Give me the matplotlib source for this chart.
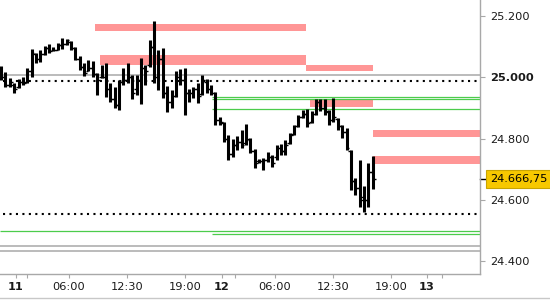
import matplotlib
matplotlib.use("Agg")
import matplotlib.pyplot as plt
from matplotlib.lines import Line2D
import matplotlib.transforms as mtransforms
import numpy as np

# 30 min OHLC bars
highs = [25037, 25017, 24998, 24981, 24994, 25001, 25030, 25092, 25079, 25089,
         25102, 25108, 25099, 25112, 25128, 25125, 25118, 25099, 25069, 25046,
         25056, 25053, 25014, 25040, 25046, 24981, 24968, 24991, 25030, 25046,
         25007, 25007, 25063, 25040, 25121, 25183, 25089, 25095, 24971, 24958,
         25020, 25027, 25030, 24961, 24968, 24981, 25007, 24994, 24974, 24952,
         24870, 24854, 24811, 24798, 24808, 24828, 24847, 24801, 24765, 24733,
         24736, 24756, 24746, 24779, 24782, 24795, 24818, 24844, 24877, 24893,
         24896, 24890, 24929, 24929, 24929, 24893, 24932, 24867, 24844, 24834,
         24762, 24671, 24730, 24645, 24720, 24743]
lows = [24991, 24968, 24968, 24948, 24965, 24974, 24981, 25001, 25046, 25050,
        25073, 25079, 25085, 25089, 25092, 25105, 25089, 25056, 25024, 25004,
        25020, 25001, 24942, 24997, 24935, 24919, 24899, 24893, 24974, 24981,
        24929, 24942, 24912, 24974, 25033, 24981, 24958, 24932, 24886, 24899,
        24935, 24974, 24876, 24919, 24932, 24916, 24942, 24948, 24942, 24844,
        24844, 24788, 24730, 24739, 24762, 24769, 24779, 24752, 24703, 24720,
        24697, 24723, 24707, 24730, 24746, 24746, 24782, 24811, 24837, 24867,
        24837, 24850, 24877, 24890, 24877, 24844, 24854, 24828, 24801, 24762,
        24632, 24615, 24576, 24560, 24576, 24636]
opens = [25020, 25000, 24975, 24975, 24968, 24985, 24985, 25020, 25075, 25060,
         25075, 25095, 25090, 25090, 25105, 25110, 25115, 25095, 25060, 25035,
         25020, 25030, 25010, 25000, 25000, 24960, 24930, 24910, 24985, 24990,
         25000, 24960, 24990, 25030, 25040, 25100, 25000, 25060, 24950, 24920,
         24940, 25000, 24990, 24950, 24950, 24960, 24945, 24985, 24960, 24950,
         24860, 24850, 24800, 24750, 24780, 24790, 24785, 24795, 24760, 24725,
         24725, 24730, 24740, 24740, 24770, 24760, 24785, 24815, 24840, 24870,
         24880, 24855, 24880, 24920, 24900, 24885, 24860, 24865, 24840, 24820,
         24760, 24660, 24640, 24610, 24600, 24690]
closes = [25000, 24975, 24985, 24960, 24985, 24980, 25020, 25080, 25060, 25075,
          25095, 25085, 25090, 25105, 25110, 25120, 25095, 25060, 25035, 25015,
          25030, 25010, 24990, 25000, 24960, 24930, 24910, 24985, 24990, 25000,
          24950, 24990, 25030, 25020, 25100, 25000, 25060, 24950, 24920, 24940,
          25000, 24990, 24950, 24950, 24960, 24940, 24990, 24960, 24950, 24860,
          24855, 24800, 24750, 24780, 24790, 24780, 24800, 24760, 24720, 24725,
          24730, 24740, 24720, 24770, 24760, 24780, 24810, 24840, 24870, 24880,
          24850, 24880, 24920, 24900, 24890, 24860, 24870, 24840, 24820, 24770,
          24660, 24640, 24600, 24600, 24690, 24666.75]
last_price = 24666.75

# resistance / support zones (x from, x to, price low, price high)
zone_x0 = [21.5, 22.6, 69.7, 70.6, 85.0, 85.0]
zone_x1 = [69.7, 69.7, 85.0, 85.0, 109.5, 109.5]
zone_lo = [25151, 25040, 25020, 24903, 24805, 24717]
zone_hi = [25174, 25073, 25040, 24929, 24828, 24743]

dotted_levels = [24989, 24552]
grey_levels = [25008, 24449, 24434]
green_levels = [24936, 24928, 24895, 24498, 24488]
green_start = [48.2, 48.2, 48.2, -1, 48.2]

tick_pos = [3.43, 15.54, 28.79, 42.05, 50.5, 62.6, 75.9, 89.1, 97.3]
tick_lab = ["11", "06:00", "12:30", "19:00", "12", "06:00", "12:30", "19:00", "13"]
minor_pos = [5.94, 53.5, 100.8]
ytick_vals = [24400, 24600, 24800, 25000, 25200]
ytick_lab = ["24.400", "24.600", "24.800", "25.000", "25.200"]

fig = plt.figure(figsize=(5.5, 3.0), dpi=100)
ax = fig.add_axes([0.0, 26 / 300, 480 / 550, 274 / 300])

x = np.arange(len(highs))
xmin, xmax = -0.23, 109.5

for i in range(len(zone_lo)):
    ax.fill_between([zone_x0[i], zone_x1[i]], zone_lo[i], zone_hi[i],
                    color='#ff9696', lw=0, zorder=1)

for lvl in grey_levels:
    ax.hlines(lvl, xmin, xmax, color='#a8a8a8', lw=1.1, zorder=2)
for lvl, st in zip(green_levels, green_start):
    ax.hlines(lvl, max(st, xmin), xmax, color='#4ccc4c', lw=0.9, zorder=2)
for lvl in dotted_levels:
    ax.hlines(lvl, 0.5, xmax, color='black', lw=1.5,
              linestyles=(0, (1, 2.1)), zorder=2)

ax.vlines(x, lows, highs, color='black', lw=2.2, zorder=3)
ax.hlines(opens, x - 0.65, x, color='black', lw=1.0, zorder=3)
ax.hlines(closes, x, x + 0.65, color='black', lw=1.0, zorder=3)

ax.set_xlim(xmin, xmax)
ax.set_ylim(24357.6, 25252.2)

for s in ['left', 'top']:
    ax.spines[s].set_visible(False)
for s in ['right', 'bottom']:
    ax.spines[s].set_color('#a8a8a8')
    ax.spines[s].set_linewidth(1.0)

ax.yaxis.tick_right()
ax.set_yticks(ytick_vals, ytick_lab)
ax.set_xticks(tick_pos, tick_lab)
ax.set_xticks(minor_pos, minor=True)
ax.tick_params(axis='y', direction='out', length=3.6, width=0.8,
               color='#a8a8a8', pad=3.5, labelsize=8.2, labelcolor='#1a1a1a')
ax.tick_params(axis='x', which='both', direction='out', length=3, width=0.8,
               color='#a8a8a8', pad=3, labelsize=8.2, labelcolor='#1a1a1a')

for t in ax.get_yticklabels():
    if t.get_text() == "25.000":
        t.set_fontweight('bold')
for t in ax.get_xticklabels():
    if ':' not in t.get_text():
        t.set_fontweight('bold')

# last price marker on the axis
trans = mtransforms.blended_transform_factory(ax.transAxes, ax.transData)
ax.add_line(Line2D([1.0, 1.0 + 5 / 480], [last_price, last_price], color='black',
                   lw=1.0, transform=trans, clip_on=False))
ax.text(1.0 + 10 / 480, last_price, "24.666,75", transform=trans,
        ha='left', va='center', fontsize=8.2, color='black',
        bbox=dict(boxstyle='square,pad=0.35', fc='#f7c800', ec='#c9a400', lw=0.8),
        clip_on=False)

fig.add_artist(Line2D([0, 1], [1.7 / 300, 1.7 / 300], color='#c8c8c8', lw=1.0,
                      transform=fig.transFigure))

fig.savefig("out.png", dpi=100)
